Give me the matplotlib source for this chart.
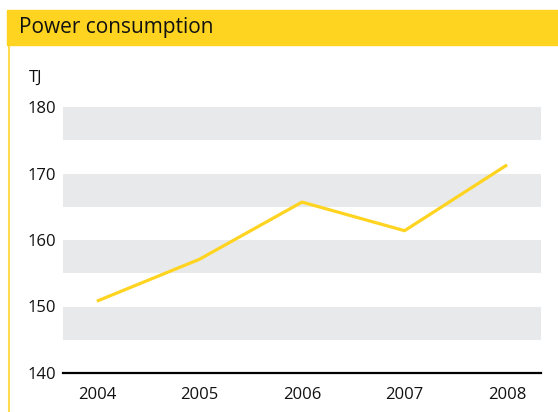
import matplotlib.pyplot as plt
from matplotlib.patches import Rectangle
from matplotlib.lines import Line2D

years = ["2004", "2005", "2006", "2007", "2008"]
consumption = [150.8, 157.1, 165.7, 161.4, 171.3]
y_ticks = [140, 150, 160, 170, 180]
bands = [(145, 150), (155, 160), (165, 170), (175, 180)]

YELLOW = "#FED420"
GREY = "#E8E9EB"

plt.rcParams["font.family"] = ["Open Sans", "DejaVu Sans"]

fig = plt.figure(figsize=(5.58, 4.12), dpi=100)

# header strip and thin left rule
fig.patches.append(Rectangle((7 / 558, 1 - 45 / 412), 551 / 558, 35 / 412,
                             transform=fig.transFigure, color=YELLOW, zorder=0))
fig.lines.append(Line2D([8.5 / 558, 8.5 / 558], [0, 1 - 45 / 412],
                        transform=fig.transFigure, color=YELLOW, lw=1.5, alpha=0.8))
fig.text(19 / 558, 1 - 28 / 412, "Power consumption", fontsize=15,
         va="center", ha="left", color="#111111")
fig.text(29 / 558, 1 - 78 / 412, "TJ", fontsize=12, va="center", ha="left",
         color="#111111")

ax = fig.add_axes([63 / 558, 1 - 373 / 412, 478 / 558, 266 / 412])
x = list(range(len(years)))

for lo, hi in bands:
    ax.axhspan(lo, hi, color=GREY, lw=0, zorder=0)

ax.plot(x, consumption, color=YELLOW, lw=2.3, zorder=3, solid_capstyle="butt")

ax.set_xlim(-0.33, 4.33)
ax.set_ylim(140, 180)
ax.set_yticks(y_ticks)
ax.set_xticks(x)
ax.set_xticklabels(years)
ax.tick_params(length=0, labelsize=12, colors="#111111")
ax.tick_params(axis="y", pad=5)
ax.tick_params(axis="x", pad=10)

for side in ["top", "right", "left"]:
    ax.spines[side].set_visible(False)
ax.spines["bottom"].set_linewidth(1.6)
ax.spines["bottom"].set_color("#000000")

fig.savefig("out.png", dpi=100)
